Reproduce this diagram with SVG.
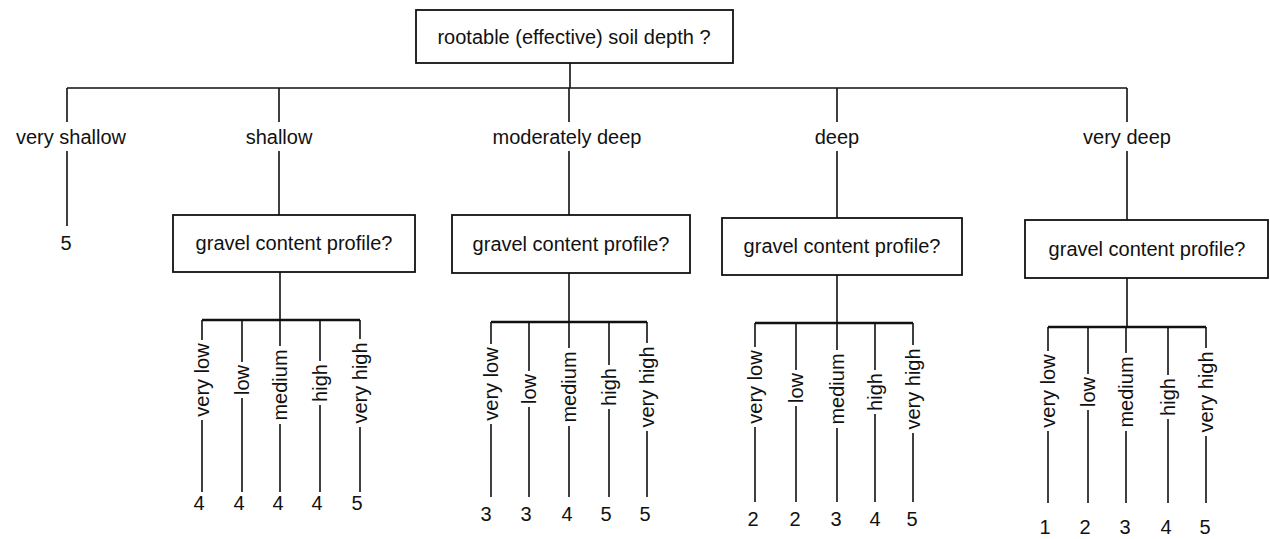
<svg xmlns="http://www.w3.org/2000/svg" width="1270" height="539" viewBox="0 0 1270 539">
<style>
text{font-family:"Liberation Sans",Arial,sans-serif;font-size:20px;fill:#111}
.c{text-anchor:middle}
.box{fill:#fff;stroke:#111;stroke-width:1.8}
.ln{stroke:#111;stroke-width:1.6;fill:none}
.bar{stroke:#111;stroke-width:2.6;fill:none}
</style>
<rect width="1270" height="539" fill="#fff"/>
<g id="connectors">
<path class="ln" d="M570 63V88M67 88H1127M67 88V122M279 88V122M569 88V122M837 88V122M1127 88V122"/>
<path class="ln" d="M67 151V226M279 151V215M569 151V215M837 151V218M1127 151V220"/>
<path class="ln" d="M280 272V320M569 273V322M837 275V323M1127 278V327"/>
<path class="bar" d="M202 320H360M491 322H647M755 323H913M1048 327H1206"/>
<path class="ln" d="M202 320V340M202 420V492M242 320V362M242 398V492M280 320V346M280 424V492M320 320V361M320 405V492M360 320V339M360 427V492"/>
<path class="ln" d="M491 322V344M491 424V497M529 322V371M529 407V497M569 322V348M569 426V497M609 322V365M609 409V497M647 322V343M647 431V497"/>
<path class="ln" d="M755 323V347M755 427V502M796 323V370M796 406V502M837 323V350M837 428V502M875 323V370M875 414V502M913 323V345M913 433V502"/>
<path class="ln" d="M1048 327V351M1048 431V503M1088 327V374M1088 410V503M1126 327V353M1126 431V503M1168 327V375M1168 419V503M1206 327V348M1206 436V503"/>
</g>
<g id="root"><rect class="box" x="416" y="10" width="317" height="53"/><text class="c" x="574" y="44">rootable (effective) soil depth ?</text></g>
<g id="b-very-shallow"><text class="c" x="71" y="144">very shallow</text></g>
<g id="b-shallow"><text class="c" x="279" y="144">shallow</text></g>
<g id="b-moderately-deep"><text class="c" x="567" y="144">moderately deep</text></g>
<g id="b-deep"><text class="c" x="837" y="144">deep</text></g>
<g id="b-very-deep"><text class="c" x="1127" y="144">very deep</text></g>
<g id="leaf-very-shallow"><text class="c" x="66" y="250">5</text></g>
<g id="q-shallow"><rect class="box" x="173" y="215" width="242" height="57"/><text class="c" x="294" y="250">gravel content profile?</text></g>
<g id="q-moderately-deep"><rect class="box" x="452" y="215" width="238" height="58"/><text class="c" x="571" y="251">gravel content profile?</text></g>
<g id="q-deep"><rect class="box" x="722" y="218" width="240" height="57"/><text class="c" x="842" y="253">gravel content profile?</text></g>
<g id="q-very-deep"><rect class="box" x="1025" y="220" width="243" height="58"/><text class="c" x="1147" y="256">gravel content profile?</text></g>
<g id="s-shallow">
<text class="c" transform="translate(202,380) rotate(-90)" dy="0.35em">very low</text>
<text class="c" transform="translate(242,380) rotate(-90)" dy="0.35em">low</text>
<text class="c" transform="translate(280,385) rotate(-90)" dy="0.35em">medium</text>
<text class="c" transform="translate(320,383) rotate(-90)" dy="0.35em">high</text>
<text class="c" transform="translate(360,383) rotate(-90)" dy="0.35em">very high</text>
<text class="c" x="199" y="510">4</text><text class="c" x="239" y="510">4</text><text class="c" x="278" y="510">4</text><text class="c" x="317" y="510">4</text><text class="c" x="357" y="510">5</text>
</g>
<g id="s-moderately-deep">
<text class="c" transform="translate(491,384) rotate(-90)" dy="0.35em">very low</text>
<text class="c" transform="translate(529,389) rotate(-90)" dy="0.35em">low</text>
<text class="c" transform="translate(569,387) rotate(-90)" dy="0.35em">medium</text>
<text class="c" transform="translate(609,387) rotate(-90)" dy="0.35em">high</text>
<text class="c" transform="translate(647,387) rotate(-90)" dy="0.35em">very high</text>
<text class="c" x="486" y="521">3</text><text class="c" x="526" y="521">3</text><text class="c" x="567" y="521">4</text><text class="c" x="606" y="521">5</text><text class="c" x="645" y="521">5</text>
</g>
<g id="s-deep">
<text class="c" transform="translate(755,387) rotate(-90)" dy="0.35em">very low</text>
<text class="c" transform="translate(796,388) rotate(-90)" dy="0.35em">low</text>
<text class="c" transform="translate(837,389) rotate(-90)" dy="0.35em">medium</text>
<text class="c" transform="translate(875,392) rotate(-90)" dy="0.35em">high</text>
<text class="c" transform="translate(913,389) rotate(-90)" dy="0.35em">very high</text>
<text class="c" x="753" y="526">2</text><text class="c" x="795" y="526">2</text><text class="c" x="836" y="526">3</text><text class="c" x="875" y="526">4</text><text class="c" x="912" y="526">5</text>
</g>
<g id="s-very-deep">
<text class="c" transform="translate(1048,391) rotate(-90)" dy="0.35em">very low</text>
<text class="c" transform="translate(1088,392) rotate(-90)" dy="0.35em">low</text>
<text class="c" transform="translate(1126,392) rotate(-90)" dy="0.35em">medium</text>
<text class="c" transform="translate(1168,397) rotate(-90)" dy="0.35em">high</text>
<text class="c" transform="translate(1206,392) rotate(-90)" dy="0.35em">very high</text>
<text class="c" x="1045" y="534">1</text><text class="c" x="1085" y="534">2</text><text class="c" x="1125" y="534">3</text><text class="c" x="1166" y="534">4</text><text class="c" x="1205" y="534">5</text>
</g>
</svg>
